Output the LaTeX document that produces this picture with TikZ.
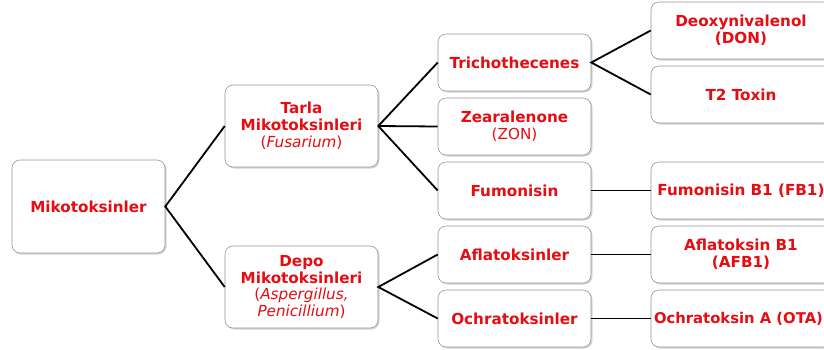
\documentclass[tikz,border=0pt]{standalone}
\usepackage{fontspec}
\setmainfont{DejaVu Sans}
\usetikzlibrary{shadows}
\definecolor{txtred}{RGB}{230,12,18}
\definecolor{boxborder}{RGB}{150,150,150}
\tikzset{
  box/.style={draw=boxborder, line width=0.6pt, fill=white, rounded corners=8pt,
    drop shadow={shadow xshift=1.5pt, shadow yshift=-1.5pt, opacity=0.35, fill=gray},
    align=center, inner sep=1pt, text=txtred,
    font=\fontsize{15.2}{16.8}\selectfont\bfseries},
  midbox/.style={box, minimum width=153pt, minimum height=57pt},
  rightbox/.style={box, minimum width=180pt, minimum height=57pt},
  conn/.style={draw=black, line width=1.8pt}
}
\begin{document}
\begin{tikzpicture}[x=1pt,y=-1pt]
\useasboundingbox (0,0) rectangle (824,349);
\node[box, minimum width=153pt, minimum height=93pt] (mk) at (88.5,206.5) {Mikotoksinler};
\node[box, minimum width=153pt, minimum height=82pt] (tarla) at (301.5,126) {Tarla\\Mikotoksinleri\\{\mdseries(\textit{Fusarium})}};
\node[box, minimum width=153pt, minimum height=82pt] (depo) at (301.5,287) {Depo\\Mikotoksinleri\\{\mdseries(\textit{Aspergillus,}}\\{\mdseries\textit{Penicillium})}};
\node[midbox] (tri) at (514.5,62.5) {Trichothecenes};
\node[midbox] (zea) at (514.5,126.5) {Zearalenone\\{\mdseries(ZON)}};
\node[midbox] (fum) at (514.5,190.5) {Fumonisin};
\node[midbox] (afl) at (514.5,254.5) {Aflatoksinler};
\node[midbox] (och) at (514.5,318.5) {Ochratoksinler};
\node[rightbox] (don) at (741,30.5) {Deoxynivalenol\\(DON)};
\node[rightbox] (t2) at (741,94.5) {T2 Toxin};
\node[rightbox] (fb1) at (741,190.5) {Fumonisin B1 (FB1)};
\node[rightbox] (afb) at (741,254.5) {Aflatoksin B1\\(AFB1)};
\node[rightbox] (ota) at (741,318.5) {\fontsize{14.8}{16.8}\selectfont Ochratoksin A (OTA)\hspace*{5pt}};
\draw[conn] (tarla.west) -- (mk.east) -- (depo.west);
\draw[conn] (tri.west) -- (tarla.east) -- (fum.west);
\draw[conn] (tarla.east) -- (zea.west);
\draw[conn] (afl.west) -- (depo.east) -- (och.west);
\draw[conn] (don.west) -- (tri.east) -- (t2.west);
\draw[conn] (fum.east) -- (fb1.west);
\draw[conn] (afl.east) -- (afb.west);
\draw[conn] (och.east) -- (ota.west);
\end{tikzpicture}
\end{document}
